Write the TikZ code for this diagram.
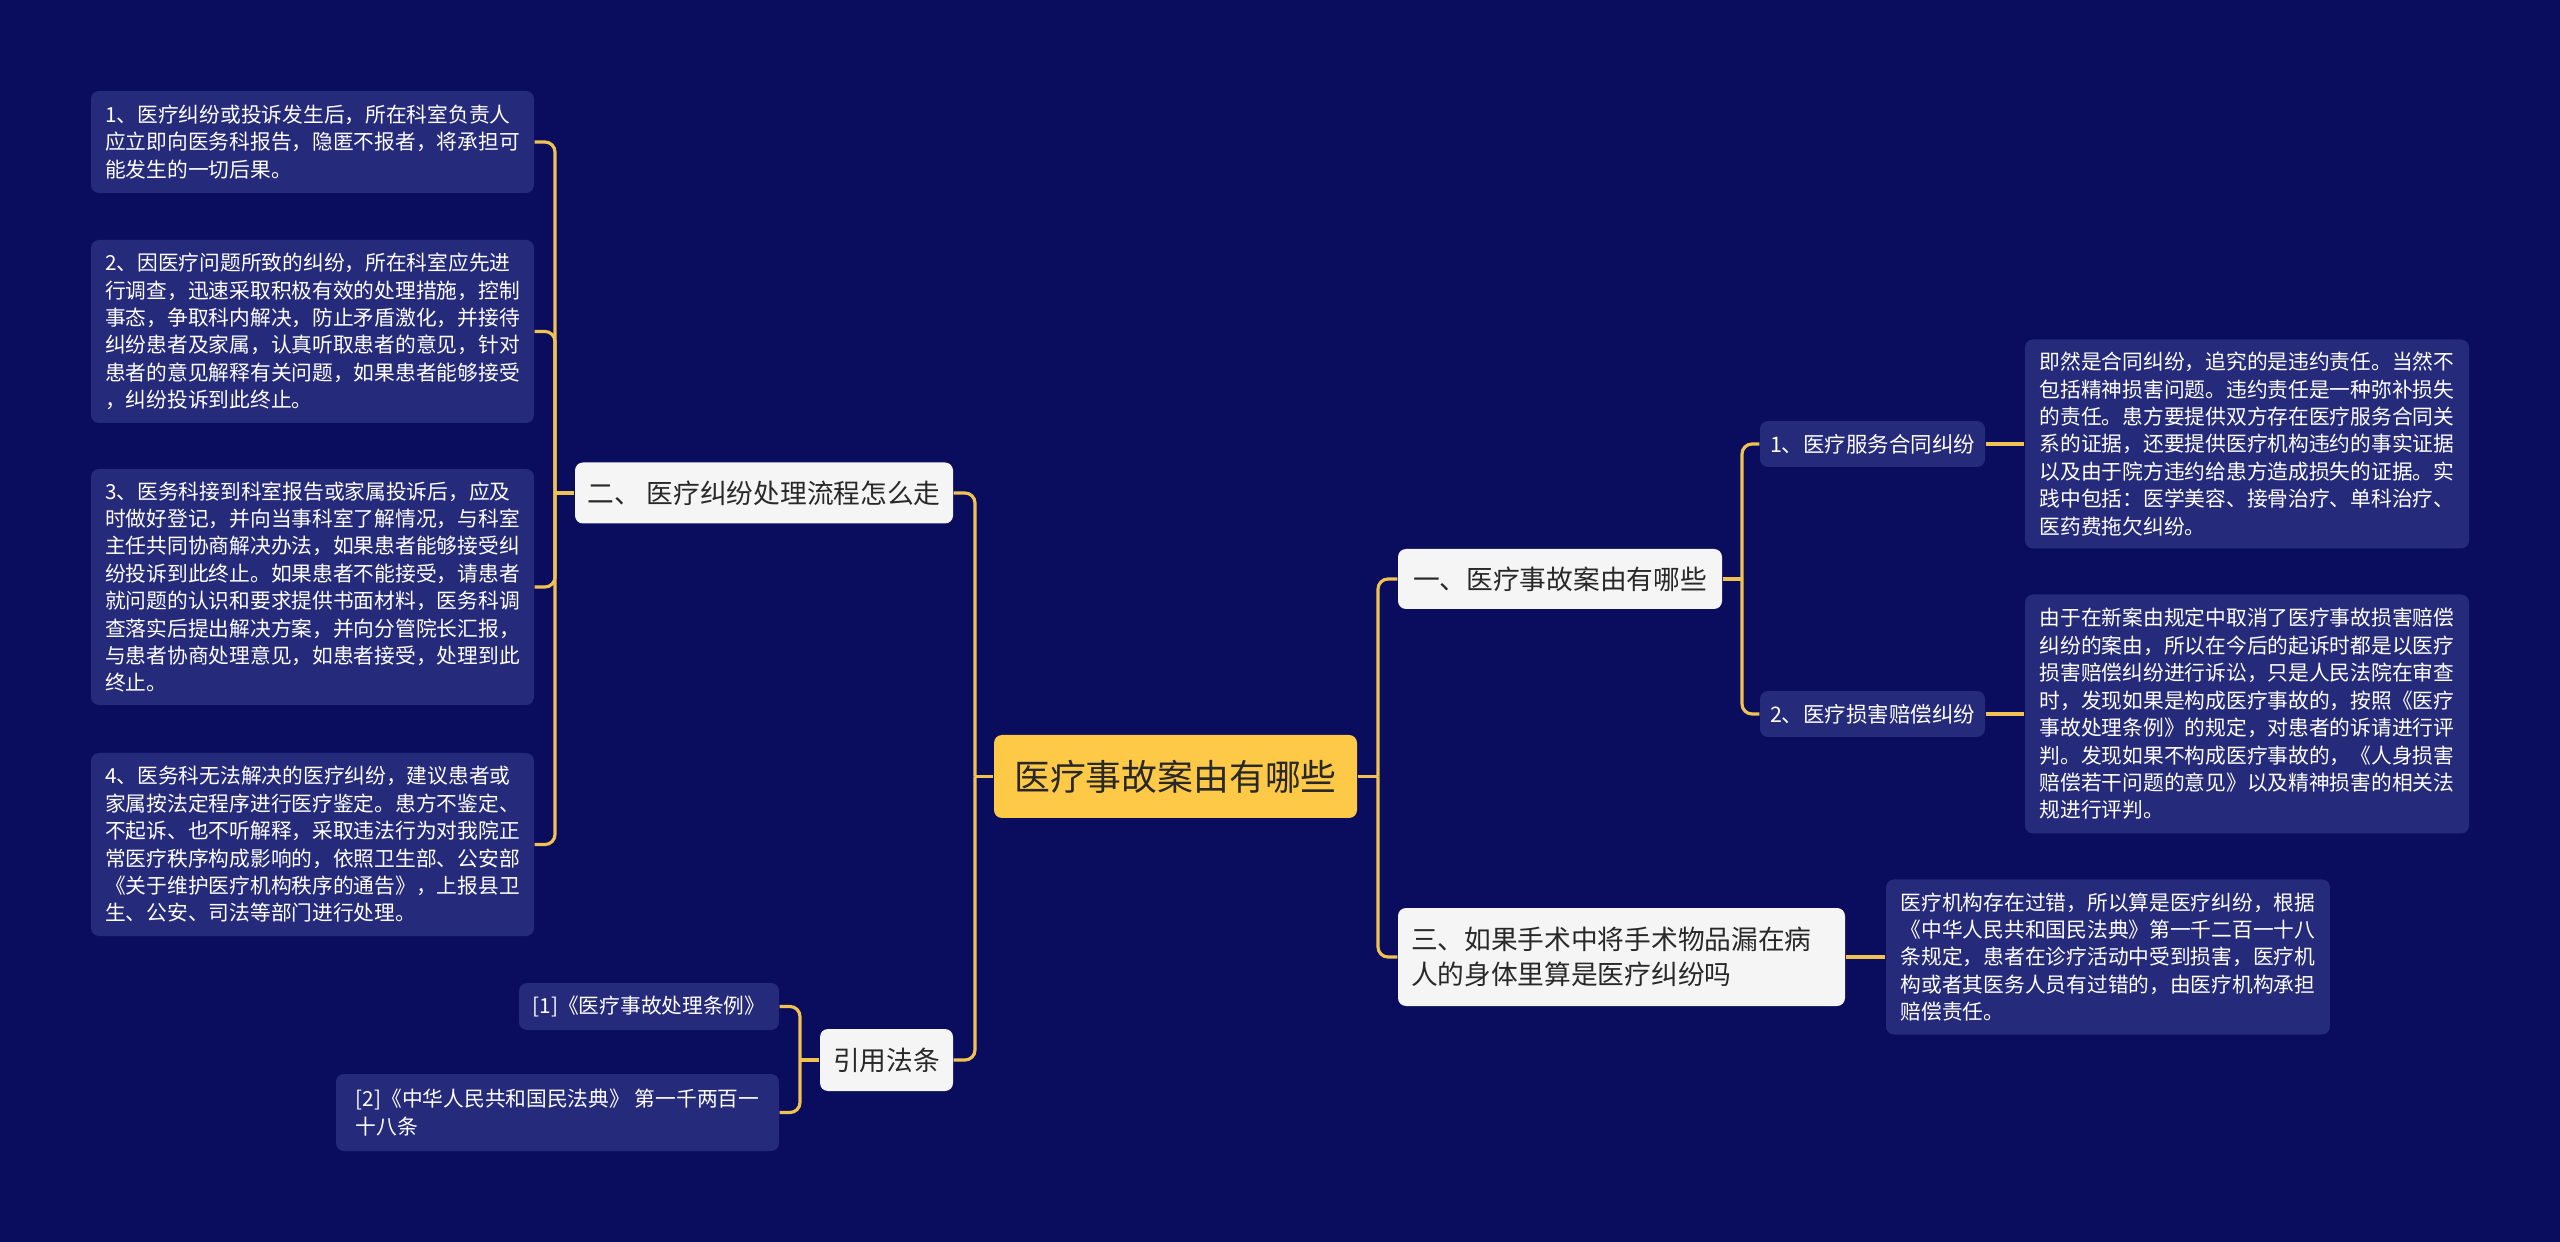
\documentclass[tikz,border=0pt]{standalone}
\usepackage{fontspec}
\newfontfamily\cjk{Noto Sans CJK SC}
\usetikzlibrary{positioning,calc}

\definecolor{bgnavy}{RGB}{10,13,94}
\definecolor{leafblue}{RGB}{37,42,122}
\definecolor{gold}{RGB}{240,194,82}
\definecolor{rootyellow}{RGB}{255,201,72}
\definecolor{paper}{RGB}{245,245,245}
\definecolor{ink}{RGB}{40,40,40}

\begin{document}
\begin{tikzpicture}[
  link/.style={draw=gold, line width=0.9pt, rounded corners=0.1cm},
  box/.style={rectangle, rounded corners=0.08cm, inner sep=0pt, align=left},
  leaf/.style={box, fill=leafblue, text=white, font=\cjk\fontsize{5.9}{7.8}\selectfont},
  sub/.style={box, fill=leafblue, text=white, font=\cjk\fontsize{6.1}{8}\selectfont},
  topic/.style={box, fill=paper, text=ink, font=\cjk\fontsize{7.6}{10.2}\selectfont},
  root/.style={box, fill=rootyellow, text=ink, font=\cjk\fontsize{10.2}{12}\selectfont}
]

% Background
\fill[bgnavy] (0,0) rectangle (25.6,-12.42);

% Nodes
\node[root, minimum width=3.63cm, minimum height=0.83cm] (root) at (11.755,-7.765) {医疗事故案由有哪些};

\node[topic, minimum width=3.24cm, minimum height=0.60cm] (causes) at (15.60,-5.79) {一、医疗事故案由有哪些};
\node[topic, minimum width=3.78cm, minimum height=0.61cm] (process) at (7.64,-4.93) {二、 医疗纠纷处理流程怎么走};
\node[topic, inner xsep=0.13cm, text width=4.21cm, minimum height=0.98cm] (surgery) at (16.215,-9.57) {三、如果手术中将手术物品漏在病\\
人的身体里算是医疗纠纷吗};
\node[topic, minimum width=1.33cm, minimum height=0.62cm] (laws) at (8.865,-10.60) {引用法条};

\node[sub, minimum width=2.25cm, minimum height=0.46cm] (contract) at (18.725,-4.44) {1、医疗服务合同纠纷};
\node[sub, minimum width=2.25cm, minimum height=0.46cm] (damage) at (18.725,-7.14) {2、医疗损害赔偿纠纷};

\node[leaf, minimum width=4.44cm, minimum height=2.09cm] (contractnote) at (22.47,-4.44) {即然是合同纠纷，追究的是违约责任。当然不\\
包括精神损害问题。违约责任是一种弥补损失\\
的责任。患方要提供双方存在医疗服务合同关\\
系的证据，还要提供医疗机构违约的事实证据\\
以及由于院方违约给患方造成损失的证据。实\\
践中包括：医学美容、接骨治疗、单科治疗、\\
医药费拖欠纠纷。};

\node[leaf, minimum width=4.44cm, minimum height=2.39cm] (damagenote) at (22.47,-7.14) {由于在新案由规定中取消了医疗事故损害赔偿\\
纠纷的案由，所以在今后的起诉时都是以医疗\\
损害赔偿纠纷进行诉讼，只是人民法院在审查\\
时，发现如果是构成医疗事故的，按照《医疗\\
事故处理条例》的规定，对患者的诉请进行评\\
判。发现如果不构成医疗事故的，《人身损害\\
赔偿若干问题的意见》以及精神损害的相关法\\
规进行评判。};

\node[leaf, minimum width=4.44cm, minimum height=1.55cm] (faultnote) at (21.08,-9.57) {医疗机构存在过错，所以算是医疗纠纷，根据\\
《中华人民共和国民法典》第一千二百一十八\\
条规定，患者在诊疗活动中受到损害，医疗机\\
构或者其医务人员有过错的，由医疗机构承担\\
赔偿责任。};

\node[leaf, minimum width=4.43cm, minimum height=1.02cm] (stage1) at (3.125,-1.42) {1、医疗纠纷或投诉发生后，所在科室负责人\\
应立即向医务科报告，隐匿不报者，将承担可\\
能发生的一切后果。};

\node[leaf, minimum width=4.43cm, minimum height=1.83cm] (stage2) at (3.125,-3.315) {2、因医疗问题所致的纠纷，所在科室应先进\\
行调查，迅速采取积极有效的处理措施，控制\\
事态，争取科内解决，防止矛盾激化，并接待\\
纠纷患者及家属，认真听取患者的意见，针对\\
患者的意见解释有关问题，如果患者能够接受\\
，纠纷投诉到此终止。};

\node[leaf, minimum width=4.43cm, minimum height=2.36cm] (stage3) at (3.125,-5.87) {3、医务科接到科室报告或家属投诉后，应及\\
时做好登记，并向当事科室了解情况，与科室\\
主任共同协商解决办法，如果患者能够接受纠\\
纷投诉到此终止。如果患者不能接受，请患者\\
就问题的认识和要求提供书面材料，医务科调\\
查落实后提出解决方案，并向分管院长汇报，\\
与患者协商处理意见，如患者接受，处理到此\\
终止。};

\node[leaf, minimum width=4.43cm, minimum height=1.83cm] (stage4) at (3.125,-8.445) {4、医务科无法解决的医疗纠纷，建议患者或\\
家属按法定程序进行医疗鉴定。患方不鉴定、\\
不起诉、也不听解释，采取违法行为对我院正\\
常医疗秩序构成影响的，依照卫生部、公安部\\
《关于维护医疗机构秩序的通告》，上报县卫\\
生、公安、司法等部门进行处理。};

\node[leaf, minimum width=2.60cm, minimum height=0.47cm] (law1) at (6.49,-10.065) {[1]《医疗事故处理条例》};
\node[leaf, minimum width=4.43cm, minimum height=0.77cm] (law2) at (5.575,-11.125) {[2]《中华人民共和国民法典》 第一千两百一\\
十八条};

% Bus points
\coordinate (rbus) at (13.78,-7.765);
\coordinate (lbus) at (9.75,-7.765);
\coordinate (pbus) at (5.55,-4.93);
\coordinate (cbus) at (8.00,-10.60);
\coordinate (sbus) at (17.42,-5.79);

% Connectors
\draw[link] (root.east) -- (rbus);
\draw[link] (rbus) |- (causes.west);
\draw[link] (rbus) |- (surgery.west);

\draw[link] (root.west) -- (lbus);
\draw[link] (lbus) |- (process.east);
\draw[link] (lbus) |- (laws.east);

\draw[link] (process.west) -- (pbus);
\foreach \s in {stage1,stage2,stage3,stage4}
  \draw[link] (pbus) |- (\s.east);

\draw[link] (laws.west) -- (cbus);
\draw[link] (cbus) |- (law1.east);
\draw[link] (cbus) |- (law2.east);

\draw[link] (causes.east) -- (sbus);
\draw[link] (sbus) |- (contract.west);
\draw[link] (sbus) |- (damage.west);

\draw[link] (contract.east) -- (contractnote.west);
\draw[link] (damage.east) -- (damagenote.west);
\draw[link] (surgery.east) -- (faultnote.west);

\end{tikzpicture}
\end{document}
